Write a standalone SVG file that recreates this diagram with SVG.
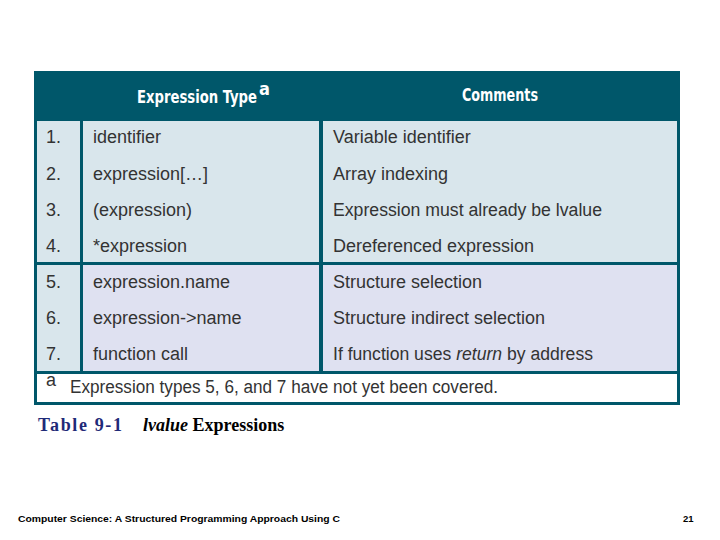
<svg xmlns="http://www.w3.org/2000/svg" width="720" height="540" viewBox="0 0 720 540">
<style>
.c{font-family:"Liberation Sans",Arial,sans-serif;font-size:18px;fill:#333}
.h{font-family:"DejaVu Sans Condensed","Liberation Sans Narrow",sans-serif;font-size:18px;font-weight:bold;fill:#fff}
</style>
<rect width="720" height="540" fill="#fff"/>
<g id="table">
<rect x="34" y="71" width="646" height="334" fill="#00576a"/>
<rect x="37" y="121" width="43" height="141" fill="#d9e6ec"/>
<rect x="83" y="121" width="236" height="141" fill="#d9e6ec"/>
<rect x="323" y="121" width="354" height="141" fill="#d9e6ec"/>
<rect x="37" y="265" width="43" height="106" fill="#d9e6ec"/>
<rect x="83" y="265" width="236" height="106" fill="#dfe1f1"/>
<rect x="323" y="265" width="354" height="106" fill="#dfe1f1"/>
<rect x="37" y="374" width="640" height="28" fill="#fff"/>
<text class="h" x="137" y="103" textLength="120" lengthAdjust="spacingAndGlyphs">Expression Type</text>
<text class="h" x="259" y="95" font-size="8" font-weight="normal">a</text>
<text class="h" x="462" y="101" textLength="76" lengthAdjust="spacingAndGlyphs">Comments</text>
</g>
<g id="rows">
<text class="c" x="46" y="143">1.</text><text class="c" x="93" y="143">identifier</text><text class="c" x="333" y="143">Variable identifier</text>
<text class="c" x="46" y="180">2.</text><text class="c" x="93" y="180">expression[…]</text><text class="c" x="333" y="180">Array indexing</text>
<text class="c" x="46" y="216">3.</text><text class="c" x="93" y="216">(expression)</text><text class="c" x="333" y="216" textLength="269" lengthAdjust="spacingAndGlyphs">Expression must already be lvalue</text>
<text class="c" x="46" y="252">4.</text><text class="c" x="93" y="252">*expression</text><text class="c" x="333" y="252">Dereferenced expression</text>
<text class="c" x="46" y="288">5.</text><text class="c" x="93" y="288">expression.name</text><text class="c" x="333" y="288">Structure selection</text>
<text class="c" x="46" y="324">6.</text><text class="c" x="93" y="324">expression-&gt;name</text><text class="c" x="333" y="324">Structure indirect selection</text>
<text class="c" x="46" y="360">7.</text><text class="c" x="93" y="360">function call</text><text class="c" x="333" y="360" textLength="260" lengthAdjust="spacingAndGlyphs">If function uses <tspan font-style="italic">return</tspan> by address</text>
<text class="c" x="46" y="386" font-size="10">a</text><text class="c" x="70" y="393" textLength="428" lengthAdjust="spacingAndGlyphs">Expression types 5, 6, and 7 have not yet been covered.</text>
</g>
<g id="caption" font-family="Liberation Serif,serif" font-size="18" font-weight="bold">
<text x="38" y="431" fill="#1f2a78" textLength="84" lengthAdjust="spacing">Table 9-1</text>
<text x="143" y="431" fill="#000"><tspan font-style="italic">lvalue</tspan> Expressions</text>
</g>
<g id="footer" font-family="Liberation Sans,Arial,sans-serif" font-size="9.5" font-weight="bold" fill="#000">
<text x="18" y="522" textLength="322" lengthAdjust="spacingAndGlyphs">Computer Science: A Structured Programming Approach Using C</text>
<text x="683" y="522">21</text>
</g>
</svg>
